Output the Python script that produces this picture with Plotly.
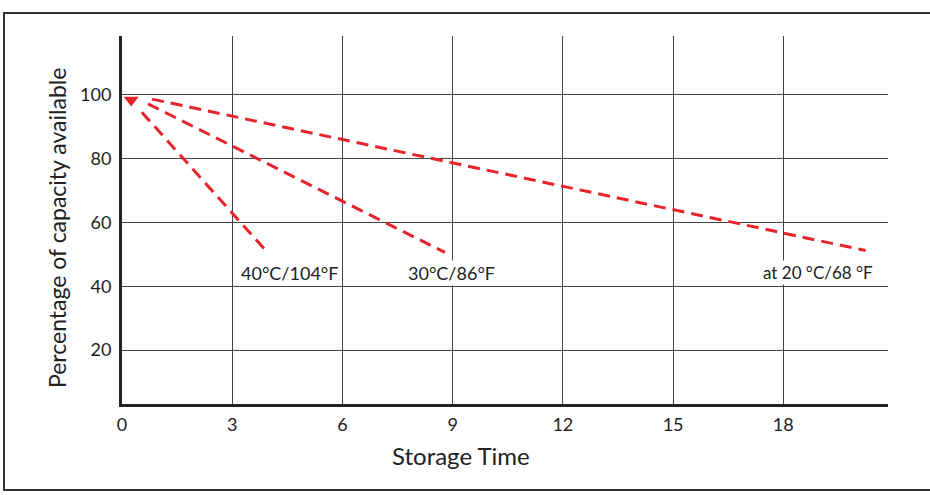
import plotly.graph_objects as go

# Data (storage time vs. % capacity available)
series_names = ["40°C/104°F", "30°C/86°F", "at 20 °C/68 °F"]
series_x = [[0.54, 3.89], [0.71, 8.79], [0.82, 20.24]]
series_y = [[94.6, 51.5], [97.2, 50.6], [98.7, 51.2]]
label_x = [4.57, 8.98, 18.94]
label_y = [44.2, 44.2, 44.2]
label_size = [18, 18, 17]
start_marker_x = [0.25]
start_marker_y = [98.4]
x_ticks = [0, 3, 6, 9, 12, 15, 18]
y_ticks = [20, 40, 60, 80, 100]

RED = "#e8232b"
FONT = "Lato, 'Noto Sans', sans-serif"

L, R, T, B = 122, 888, 36, 404
W, H = 930, 495
PW, PH = R - L, B - T


def px(x):
    return (x - L) / PW


def py(y):
    return (B - y) / PH


fig = go.Figure()
for xs, ys, name in zip(series_x, series_y, series_names):
    fig.add_trace(go.Scatter(x=xs, y=ys, mode="lines", name=name,
                             line=dict(color=RED, width=3, dash="12px,7px"),
                             showlegend=False, hoverinfo="skip"))
fig.add_trace(go.Scatter(x=start_marker_x, y=start_marker_y, mode="markers",
                         marker=dict(symbol="triangle-down", size=13, color=RED),
                         showlegend=False, hoverinfo="skip"))

for name, lx, ly, ls in zip(series_names, label_x, label_y, label_size):
    fig.add_annotation(x=lx, y=ly, text=name, showarrow=False,
                       xanchor="center", yanchor="middle", bgcolor="white", borderpad=1,
                       font=dict(family=FONT, size=ls, color="#222"))

# axis titles
fig.add_annotation(xref="paper", yref="paper", x=px(461), y=py(455),
                   xanchor="center", yanchor="middle",
                   text="Storage Time", showarrow=False,
                   font=dict(family=FONT, size=24, color="#222"))
fig.add_annotation(xref="paper", yref="paper", x=px(57), y=py(228),
                   xanchor="center", yanchor="middle",
                   text="Percentage of capacity available", showarrow=False, textangle=-90,
                   font=dict(family=FONT, size=23, color="#222"))

# outer frame
fig.add_shape(type="rect", xref="paper", yref="paper",
              x0=px(4), x1=px(945), y0=py(490), y1=py(13),
              line=dict(color="#333", width=2), fillcolor="rgba(0,0,0,0)", layer="below")

fig.update_layout(
    width=W, height=H,
    margin=dict(l=L, r=W - R, t=T, b=H - B),
    paper_bgcolor="white", plot_bgcolor="white",
    font=dict(family=FONT, size=18, color="#222"),
)
fig.update_xaxes(range=[0, 20.85], tickvals=x_ticks, ticks="outside", ticklen=2,
                 tickcolor="rgba(0,0,0,0)", showgrid=True,
                 gridcolor="#444", gridwidth=1, zeroline=False,
                 showline=True, linecolor="#222", linewidth=3,
                 tickfont=dict(family=FONT, size=18, color="#222"))
fig.update_yaxes(range=[3.06, 118.5], tickvals=y_ticks, ticks="outside", ticklen=4,
                 tickcolor="rgba(0,0,0,0)", showgrid=True,
                 gridcolor="#444", gridwidth=1, zeroline=False,
                 showline=True, linecolor="#222", linewidth=3,
                 tickfont=dict(family=FONT, size=18, color="#222"))

fig.write_html("out.html", config={"displayModeBar": False},
               post_script="document.body.style.margin='0px';document.body.style.overflow='hidden';")
